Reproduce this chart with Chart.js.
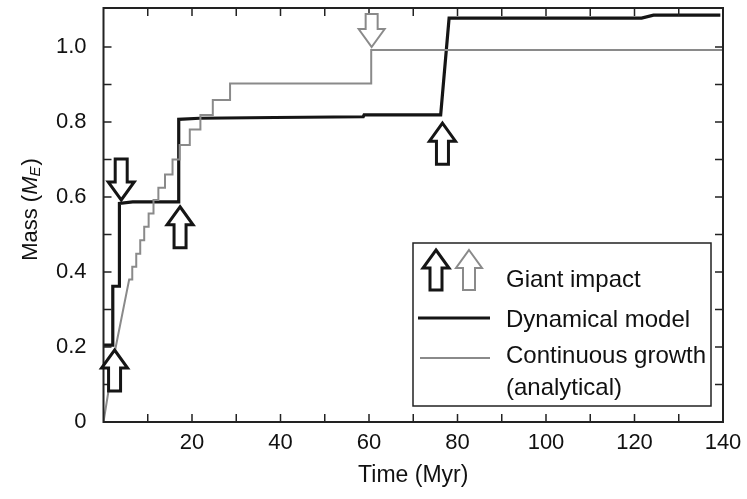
<!DOCTYPE html>
<html>
<head>
<meta charset="utf-8">
<script src="https://cdn.jsdelivr.net/npm/chart.js@4"></script>
<style>
  body { margin: 0; background: #fff; }
  #wrap { width: 747px; height: 499px; }
</style>
</head>
<body>
<div id="wrap"><canvas id="masa"></canvas></div>
<script>
// Dynamical model (N-body), vertices
const dynTime = [0, 2.1, 2.1, 3.6, 3.6, 6.6, 17.0, 17.0, 21.7, 38.7, 58.7, 58.9, 76.2, 78.1, 121.6, 124.3, 139.4];
const dynMass = [0.205, 0.205, 0.362, 0.362, 0.583, 0.587, 0.587, 0.807, 0.81, 0.812, 0.814, 0.819, 0.819, 1.077, 1.077, 1.085, 1.085];

// Continuous growth (analytical): initial ramp then a staircase
const rampTime = [0, 2.6, 5.8];
const rampMass = [0, 0.19, 0.38];
const stepTime = [5.8, 6.5, 7.4, 8.3, 9.2, 10.2, 11.3, 12.4, 13.9, 15.6, 17.2, 19.5, 21.9, 24.7, 28.6, 60.5, 140];
const stepMass = [0.38, 0.414, 0.449, 0.485, 0.521, 0.556, 0.592, 0.625, 0.66, 0.70, 0.739, 0.78, 0.819, 0.859, 0.903, 0.992, 0.992];

// Giant impacts (arrow tips)
const impactTime = [2.5, 4.0, 17.3, 76.6, 60.6];
const impactMass = [0.192, 0.592, 0.574, 0.797, 1.0];
const impactDir = ["up", "down", "up", "up", "down"];
const impactModel = ["dyn", "dyn", "dyn", "dyn", "cont"];

const xTicks = [20, 40, 60, 80, 100, 120, 140];
const yTicks = [0, 0.2, 0.4, 0.6, 0.8, 1.0];

const FONT = "'Liberation Sans', Arial, Helvetica, sans-serif";
const GREY = "#8a8a8a";
const BLACK = "#151515";

// build vertex list for the staircase
let contPts = rampTime.map((t, i) => ({ x: t, y: rampMass[i] }));
for (let i = 1; i < stepTime.length; i++) {
  contPts.push({ x: stepTime[i], y: stepMass[i - 1] });
  contPts.push({ x: stepTime[i], y: stepMass[i] });
}
const dynPts = dynTime.map((t, i) => ({ x: t, y: dynMass[i] }));

const flecha = (ctx, x, y, dir, len, color, lw) => {
  const s = dir === "up" ? 1 : -1;
  const hw = 13, hl = 18, sw = 6;
  ctx.save();
  ctx.beginPath();
  ctx.moveTo(x, y);
  ctx.lineTo(x + hw, y + s * hl);
  ctx.lineTo(x + sw, y + s * hl);
  ctx.lineTo(x + sw, y + s * len);
  ctx.lineTo(x - sw, y + s * len);
  ctx.lineTo(x - sw, y + s * hl);
  ctx.lineTo(x - hw, y + s * hl);
  ctx.closePath();
  ctx.fillStyle = "#fff";
  ctx.fill();
  ctx.lineJoin = "miter";
  ctx.lineWidth = lw;
  ctx.strokeStyle = color;
  ctx.stroke();
  ctx.restore();
};

const decor = {
  id: "decor",
  afterDatasetsDraw(chart) {
    const { ctx, chartArea: a, scales } = chart;
    const sx = scales.x, sy = scales.y;

    // marco
    ctx.save();
    ctx.strokeStyle = "#222";
    ctx.lineWidth = 2;
    ctx.strokeRect(a.left, a.top, a.right - a.left, a.bottom - a.top);

    // ticks hacia dentro (cada 10 Myr y cada 0.1)
    ctx.lineWidth = 1.5;
    ctx.beginPath();
    for (let t = 10; t < 140; t += 10) {
      const px = sx.getPixelForValue(t);
      ctx.moveTo(px, a.bottom); ctx.lineTo(px, a.bottom - 8);
      ctx.moveTo(px, a.top); ctx.lineTo(px, a.top + 8);
    }
    for (let k = 1; k <= 10; k++) {
      const py = sy.getPixelForValue(k / 10);
      ctx.moveTo(a.left, py); ctx.lineTo(a.left + 8, py);
      ctx.moveTo(a.right, py); ctx.lineTo(a.right - 8, py);
    }
    ctx.stroke();
    ctx.restore();

    // flechas de impactos gigantes
    impactTime.forEach((t, i) => {
      const len = impactModel[i] === "dyn" ? 41 : 33;
      const col = impactModel[i] === "dyn" ? BLACK : GREY;
      const lw = impactModel[i] === "dyn" ? 3 : 2;
      flecha(ctx, sx.getPixelForValue(t), sy.getPixelForValue(impactMass[i]), impactDir[i], len, col, lw);
    });

    // leyenda
    ctx.save();
    ctx.fillStyle = "#fff";
    ctx.fillRect(413, 243, 298, 163);
    ctx.strokeStyle = "#222";
    ctx.lineWidth = 1.5;
    ctx.strokeRect(413, 243, 298, 163);
    flecha(ctx, 436, 250, "up", 40, BLACK, 3);
    flecha(ctx, 469, 250, "up", 40, GREY, 2);
    ctx.lineWidth = 3;
    ctx.strokeStyle = BLACK;
    ctx.beginPath(); ctx.moveTo(418, 318); ctx.lineTo(490, 318); ctx.stroke();
    ctx.lineWidth = 2;
    ctx.strokeStyle = GREY;
    ctx.beginPath(); ctx.moveTo(420, 358); ctx.lineTo(490, 358); ctx.stroke();
    ctx.fillStyle = "#111";
    ctx.font = "24px " + FONT;
    ctx.textBaseline = "middle";
    ctx.textAlign = "left";
    ctx.fillText("Giant impact", 506, 280);
    ctx.fillText("Dynamical model", 506, 320);
    ctx.fillText("Continuous growth", 506, 356);
    ctx.fillText("(analytical)", 506, 388);
    ctx.restore();

    // titulo eje y: Mass (M_E)
    ctx.save();
    ctx.translate(31, 210);
    ctx.rotate(-Math.PI / 2);
    ctx.fillStyle = "#111";
    ctx.textBaseline = "middle";
    ctx.textAlign = "left";
    const f1 = "22px " + FONT, f2 = "italic 22px " + FONT, f3 = "italic 15px " + FONT;
    ctx.font = f1; const w1 = ctx.measureText("Mass (").width; const w4 = ctx.measureText(")").width;
    ctx.font = f2; const w2 = ctx.measureText("M").width;
    ctx.font = f3; const w3 = ctx.measureText("E").width;
    let x0 = -(w1 + w2 + w3 + w4) / 2;
    ctx.font = f1; ctx.fillText("Mass (", x0, 0); x0 += w1;
    ctx.font = f2; ctx.fillText("M", x0, 0); x0 += w2;
    ctx.font = f3; ctx.fillText("E", x0, 5); x0 += w3 + 1;
    ctx.font = f1; ctx.fillText(")", x0, 0);
    ctx.restore();
  },
};

Chart.defaults.font.family = FONT;
Chart.defaults.color = "#111";

new Chart(document.getElementById("masa"), {
  type: "line",
  data: {
    datasets: [
      {
        label: "Continuous growth (analytical)",
        data: contPts,
        borderColor: GREY,
        borderWidth: 2,
        pointRadius: 0,
        tension: 0,
      },
      {
        label: "Dynamical model",
        data: dynPts,
        borderColor: BLACK,
        borderWidth: 3.2,
        pointRadius: 0,
        tension: 0,
      },
    ],
  },
  options: {
    responsive: true,
    maintainAspectRatio: false,
    animation: false,
    layout: { padding: { top: 8, right: 24, left: 0, bottom: 0 } },
    scales: {
      x: {
        type: "linear",
        min: 0,
        max: 140,
        afterBuildTicks: (axis) => { axis.ticks = xTicks.map((v) => ({ value: v })); },
        afterFit: (axis) => {
          axis.height = 77;
          axis.paddingLeft = 0;
          axis.paddingRight = 0;
        },
        grid: { display: false, drawTicks: false },
        border: { display: false },
        ticks: { font: { size: 22 }, padding: 8, maxRotation: 0, color: "#111" },
        title: { display: true, text: "Time (Myr)", font: { size: 23 }, padding: { top: 0, bottom: 10 }, color: "#111" },
      },
      y: {
        type: "linear",
        min: 0,
        max: 1.104,
        afterBuildTicks: (axis) => { axis.ticks = yTicks.map((v) => ({ value: v })); },
        afterFit: (axis) => {
          axis.width = 103.5;
          axis.paddingTop = 0;
          axis.paddingBottom = 0;
        },
        grid: { display: false, drawTicks: false },
        border: { display: false },
        ticks: {
          font: { size: 22 },
          padding: 17,
          color: "#111",
          callback: (v) => (v === 0 ? "0" : v.toFixed(1)),
        },
      },
    },
    plugins: {
      legend: { display: false },
      tooltip: { enabled: false },
    },
  },
  plugins: [decor],
});
</script>
</body>
</html>
